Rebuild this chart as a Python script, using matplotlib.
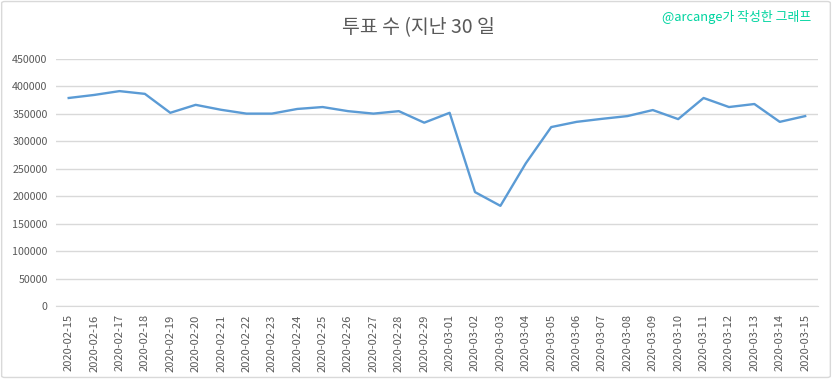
import matplotlib
matplotlib.use("Agg")
import matplotlib.pyplot as plt
from matplotlib.patches import FancyBboxPatch

plt.rcParams['font.family'] = ['Noto Sans CJK KR', 'DejaVu Sans']

# 날짜별 투표 수
dates = [
    "2020-02-15", "2020-02-16", "2020-02-17", "2020-02-18", "2020-02-19",
    "2020-02-20", "2020-02-21", "2020-02-22", "2020-02-23", "2020-02-24",
    "2020-02-25", "2020-02-26", "2020-02-27", "2020-02-28", "2020-02-29",
    "2020-03-01", "2020-03-02", "2020-03-03", "2020-03-04", "2020-03-05",
    "2020-03-06", "2020-03-07", "2020-03-08", "2020-03-09", "2020-03-10",
    "2020-03-11", "2020-03-12", "2020-03-13", "2020-03-14", "2020-03-15",
]
votes = [
    379000, 384500, 391500, 386500, 352000,
    366500, 357500, 350500, 350500, 359000,
    362500, 355000, 350500, 355000, 334000,
    352000, 207500, 182500, 260000, 326000,
    335500, 341000, 346000, 357000, 340500,
    379000, 362500, 368000, 335500, 346000,
]
y_ticks = list(range(0, 450001, 50000))

gray = "#595959"

fig = plt.figure(figsize=(8.32, 3.79), dpi=100)
ax = fig.add_axes([0.0673, 0.1926, 0.9157, 0.6517])

x = list(range(len(dates)))
ax.plot(x, votes, color="#5B9BD5", linewidth=1.7, solid_joinstyle="round")

ax.set_xlim(-0.5, len(dates) - 0.5)
ax.set_ylim(0, 450000)
ax.set_yticks(y_ticks)
ax.set_yticklabels([str(v) for v in y_ticks], color=gray, fontsize=7.7)
ax.set_xticks(x)
ax.set_xticklabels(dates, rotation=90, color=gray, fontsize=8)
ax.tick_params(axis="both", length=0, pad=6)
ax.yaxis.grid(True, color="#D9D9D9", linewidth=1)
ax.set_axisbelow(True)
for side in ["top", "right", "left"]:
    ax.spines[side].set_visible(False)
ax.spines["bottom"].set_color("#D9D9D9")

fig.text(0.503, 0.928, "투표 수 (지난 30 일", ha="center", va="center",
         color=gray, fontsize=14)
fig.text(0.975, 0.955, "@arcange가 작성한 그래프", ha="right", va="center",
         color="#00D4A0", fontsize=9.3)

# 바깥 테두리
border = FancyBboxPatch((0.002, 0.004), 0.996, 0.992, boxstyle="round,pad=0,rounding_size=0.004",
                        transform=fig.transFigure, fill=False, edgecolor="#D9D9D9", linewidth=1)
fig.patches.append(border)

fig.savefig("out.png", dpi=100)
